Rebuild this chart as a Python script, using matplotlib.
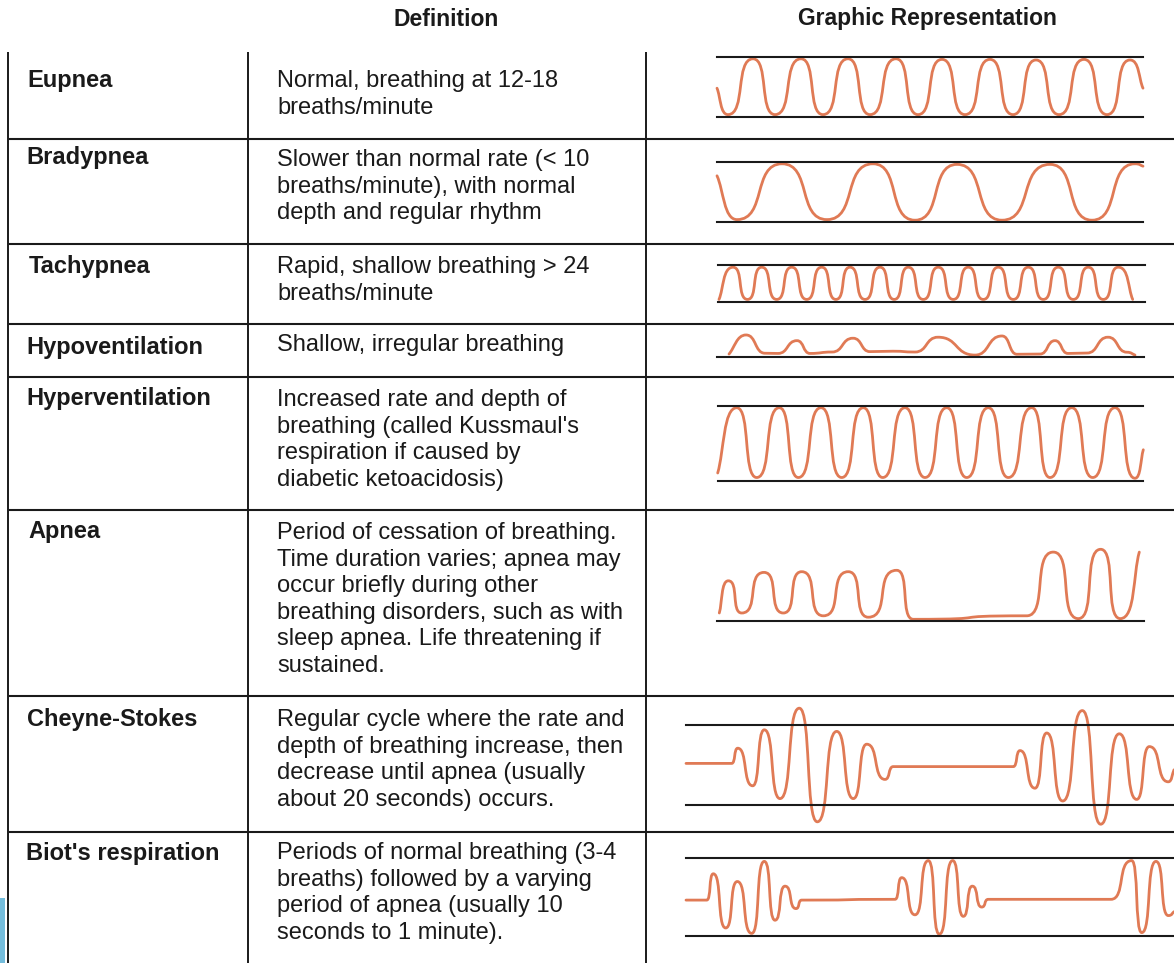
import matplotlib
matplotlib.use("Agg")
import matplotlib.pyplot as plt
from matplotlib.path import Path
from matplotlib.patches import PathPatch, Rectangle

W, H = 1174, 963

# ---- table text ----
headers = ["Definition", "Graphic Representation"]
names = ["Eupnea", "Bradypnea", "Tachypnea", "Hypoventilation",
         "Hyperventilation", "Apnea", "Cheyne-Stokes", "Biot's respiration"]
definitions = [
    "Normal, breathing at 12-18\nbreaths/minute",
    "Slower than normal rate (< 10\nbreaths/minute), with normal\ndepth and regular rhythm",
    "Rapid, shallow breathing > 24\nbreaths/minute",
    "Shallow, irregular breathing",
    "Increased rate and depth of\nbreathing (called Kussmaul's\nrespiration if caused by\ndiabetic ketoacidosis)",
    "Period of cessation of breathing.\nTime duration varies; apnea may\noccur briefly during other\nbreathing disorders, such as with\nsleep apnea. Life threatening if\nsustained.",
    "Regular cycle where the rate and\ndepth of breathing increase, then\ndecrease until apnea (usually\nabout 20 seconds) occurs.",
    "Periods of normal breathing (3-4\nbreaths) followed by a varying\nperiod of apnea (usually 10\nseconds to 1 minute).",
]

# ---- waveforms: time offset and level (0 = lower guide line, 1 = upper) ----
eupnea_t = [0, 11, 36, 58, 84, 106, 131, 153, 179, 201, 225, 248, 273, 296,
            319, 342, 367, 390, 413, 426]
eupnea_lv = [0.48, 0.04, 0.97, 0.04, 0.97, 0.04, 0.97, 0.04, 0.97, 0.04,
             0.96, 0.04, 0.96, 0.04, 0.95, 0.04, 0.96, 0.04, 0.95, 0.48]

brady_t = [0, 20, 65, 110, 156, 198, 240, 285, 333, 375, 418, 426]
brady_lv = [0.77, 0.04, 0.97, 0.04, 0.97, 0.03, 0.96, 0.03, 0.96, 0.03,
            0.97, 0.93]

tachy_t = [1, 15, 29.5, 43.7, 58.7, 73.7, 88.7, 103.7, 117.9, 132, 147, 162,
           176.2, 190.3, 205.3, 220.3, 235.3, 250.3, 265.3, 280.3, 295.3,
           310.3, 325.3, 340.3, 355.3, 370.3, 385.3, 400.3, 414.7]
tachy_lv = [0.07, 0.94, 0.07, 0.94, 0.07, 0.94, 0.07, 0.94, 0.07, 0.94,
            0.07, 0.94, 0.07, 0.94, 0.07, 0.94, 0.07, 0.94, 0.07, 0.94,
            0.07, 0.94, 0.07, 0.94, 0.07, 0.94, 0.07, 0.94, 0.07]

hypo_t = [12, 29, 48, 61, 80, 93, 115, 136, 153, 176, 198, 221, 258, 285,
          300, 323, 338, 351, 370, 391, 410, 418]
hypo_lv = [0.16, 1.10, 0.20, 0.19, 0.82, 0.19, 0.26, 0.94, 0.28, 0.30, 0.26,
           0.99, 0.11, 1.05, 0.15, 0.16, 0.82, 0.19, 0.21, 0.99, 0.25, 0.11]

hyper_t = [0, 19, 39, 61.6, 80.6, 103.3, 124, 145.6, 165, 187.3, 207.3, 229,
           249, 270.6, 290.6, 314, 332.3, 354, 375, 397.3, 417.3, 425.6]
hyper_lv = [0.10, 0.97, 0.04, 0.97, 0.04, 0.97, 0.04, 0.97, 0.04, 0.97, 0.04,
            0.97, 0.04, 0.97, 0.04, 0.97, 0.04, 0.97, 0.04, 0.97, 0.03, 0.41]

apnea_t = [2, 11, 24.4, 46.7, 66, 84.4, 106, 131, 151, 179.4, 196, 309.4,
           336, 361, 383.4, 403, 422]
apnea_lv = [0.11, 0.57, 0.11, 0.69, 0.11, 0.70, 0.07, 0.70, 0.05, 0.72, 0.02,
            0.07, 0.98, 0.03, 1.02, 0.03, 0.98]

cs_t = [0, 45.7, 51.7, 66.7, 78.3, 94, 113.3, 131.3, 150.7, 167.3, 180.7, 199,
        207.3, 327.3, 334, 349, 360.7, 376.7, 396.3, 414.7, 433.3, 450.7,
        463.3, 482.3, 488]
cs_lv = [0.52, 0.52, 0.71, 0.24, 0.94, 0.08, 1.21, -0.21, 0.92, 0.08, 0.76,
         0.32, 0.48, 0.48, 0.68, 0.21, 0.90, 0.05, 1.18, -0.24, 0.89, 0.07,
         0.73, 0.29, 0.44]

biot_t = [0, 20.7, 27.3, 39.7, 51.3, 65.7, 78.3, 89, 99, 110, 115.7, 209,
          215.7, 229, 242.3, 253.3, 266.7, 277.3, 286.3, 295.7, 302.3, 425,
          445.7, 455.7, 470, 482.3, 488]
biot_lv = [0.46, 0.46, 0.80, 0.10, 0.70, 0.03, 0.96, 0.20, 0.64, 0.35, 0.46,
           0.47, 0.75, 0.27, 0.97, 0.02, 0.97, 0.25, 0.64, 0.37, 0.47, 0.47,
           0.97, 0.04, 0.96, 0.26, 0.31]

waves = [(eupnea_t, eupnea_lv), (brady_t, brady_lv), (tachy_t, tachy_lv),
         (hypo_t, hypo_lv), (hyper_t, hyper_lv), (apnea_t, apnea_lv),
         (cs_t, cs_lv), (biot_t, biot_lv)]

# ---- layout (pixels) ----
row_tops = [52, 139, 244.5, 324.5, 377.5, 510.5, 696, 832]
name_x = [27, 26, 28.5, 26, 26, 28, 27, 26]
name_base = [87, 164, 273, 354, 405, 538, 726, 860]
def_base = [87, 166, 273, 351, 406, 539, 726, 859]
line_step = 26.6
# panel: x0, x1, y of upper guide, y of lower guide, draw upper guide, roundness
panels = [
    (717, 1143, 57, 117, True, 0.72),
    (717, 1143, 162, 222, True, 0.66),
    (718, 1145, 265, 302, True, 0.74),
    (717, 1144, 337, 357.3, False, 0.55),
    (717.7, 1143, 405.5, 480.5, True, 0.7),
    (717.3, 1144, 550.7, 620.7, False, 0.8),
    (686, 1174, 725, 805, True, 0.66),
    (686, 1174, 858.3, 935.7, True, 0.7),
]

WAVE = "#e07a55"
INK = "#1a1a1a"
FONT = ["Liberation Sans", "DejaVu Sans"]


def wave_path(ts, lv, k):
    verts = [(ts[0], lv[0])]
    codes = [Path.MOVETO]
    n = len(ts)
    for i in range(n - 1):
        x0, y0, x1, y1 = ts[i], lv[i], ts[i + 1], lv[i + 1]
        dx = x1 - x0
        if i > 0:
            c1 = (x0 + k * dx, y0)
        else:
            c1 = (x0 + dx / 3, y0 + (y1 - y0) / 3)
        if i + 1 < n - 1:
            c2 = (x1 - k * dx, y1)
        else:
            c2 = (x1 - dx / 3, y1 - (y1 - y0) / 3)
        verts += [c1, c2, (x1, y1)]
        codes += [Path.CURVE4] * 3
    return Path(verts, codes)


def main():
    fig = plt.figure(figsize=(W / 100, H / 100), dpi=100)
    ax = fig.add_axes([0, 0, 1, 1])
    ax.set_xlim(0, W)
    ax.set_ylim(H, 0)
    ax.axis("off")

    ax.add_patch(Rectangle((0, 898), 5, H - 898, color="#74bddc", lw=0))

    for x in [8, 248, 645.5]:
        ax.plot([x, x], [52, H], color=INK, lw=1.4, solid_capstyle="butt")
    for y in row_tops[1:]:
        ax.plot([9, W], [y, y], color=INK, lw=1.5, solid_capstyle="butt")

    ax.text(446, 19, headers[0], ha="center", va="center", fontsize=16.5,
            fontweight="bold", family=FONT, color=INK)
    ax.text(927, 19, headers[1], ha="center", va="center", fontsize=16.5,
            fontweight="bold", family=FONT, color=INK)

    for i in range(len(names)):
        ax.text(name_x[i], name_base[i], names[i], ha="left", va="baseline",
                fontsize=17, fontweight="bold", family=FONT, color=INK)
        for j, line in enumerate(definitions[i].split("\n")):
            ax.text(277, def_base[i] + j * line_step, line, ha="left",
                    va="baseline", fontsize=17, family=FONT, color=INK)

    for (ts, lv), (x0, x1, yt, yb, top, k) in zip(waves, panels):
        wax = fig.add_axes([x0 / W, 1 - yb / H, (x1 - x0) / W, (yb - yt) / H])
        wax.set_xlim(0, x1 - x0)
        wax.set_ylim(0, 1)
        wax.axis("off")
        wax.axhline(0, color=INK, lw=1.5, clip_on=False)
        if top:
            wax.axhline(1, color=INK, lw=1.5, clip_on=False)
        wax.add_patch(PathPatch(wave_path(ts, lv, k), fill=False,
                                edgecolor=WAVE, lw=2.0, clip_on=False,
                                capstyle="round", joinstyle="round"))

    fig.savefig("out.png", dpi=100)


if __name__ == "__main__":
    main()
